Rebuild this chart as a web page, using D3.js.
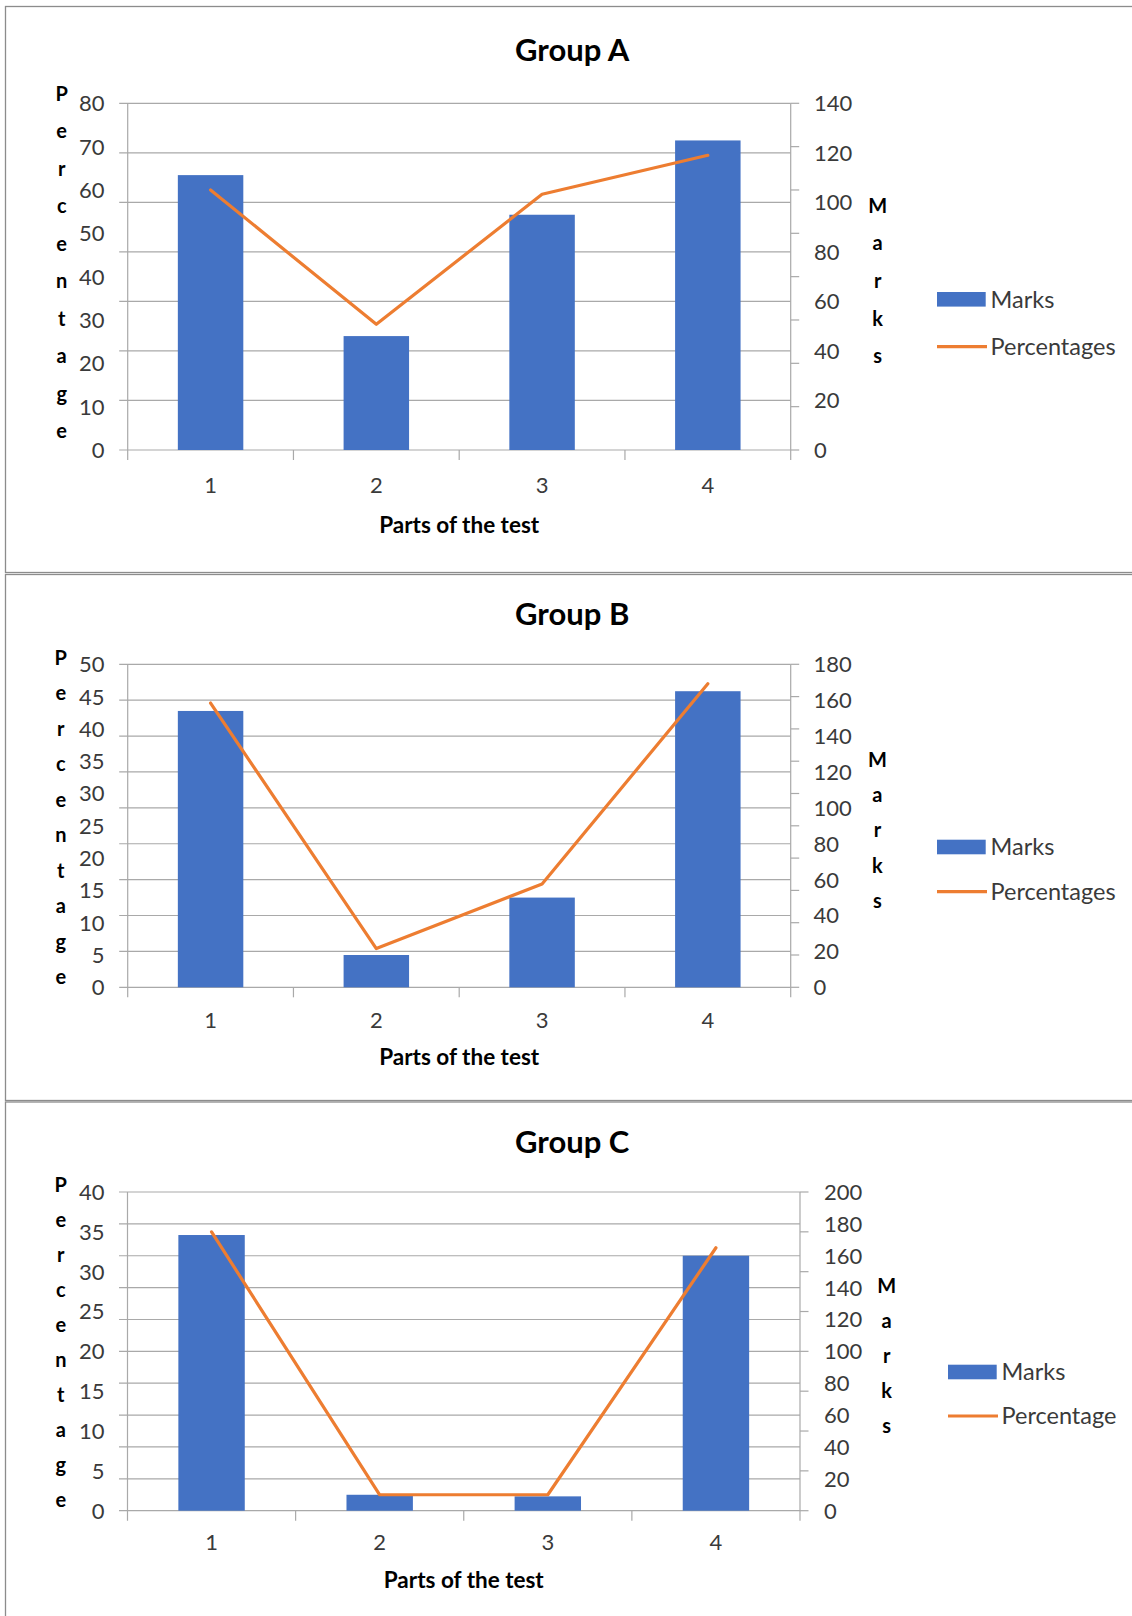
<!DOCTYPE html>
<html>
<head>
<meta charset="utf-8">
<script src="https://cdn.jsdelivr.net/npm/d3@7"></script>
<style>
  html, body { margin: 0; padding: 0; background: #ffffff; }
  svg { display: block; font-family: Lato, "Open Sans", sans-serif; }
</style>
</head>
<body>
<svg id="chart" width="1132" height="1616"></svg>
<script>
// ---- data ---------------------------------------------------------------
const parts = ["1", "2", "3", "4"];

const groupAMarks = [111, 46, 95, 125];
const groupAPercentages = [60, 29, 59, 68];

const groupBMarks = [154, 18, 50, 165];
const groupBPercentages = [44, 6, 16, 47];

const groupCMarks = [173, 10, 9, 160];
const groupCPercentages = [35, 2, 2, 33];

const percentTicksA = [0, 10, 20, 30, 40, 50, 60, 70, 80];
const marksTicksA = [0, 20, 40, 60, 80, 100, 120, 140];
const percentTicksB = [0, 5, 10, 15, 20, 25, 30, 35, 40, 45, 50];
const marksTicksB = [0, 20, 40, 60, 80, 100, 120, 140, 160, 180];
const percentTicksC = [0, 5, 10, 15, 20, 25, 30, 35, 40];
const marksTicksC = [0, 20, 40, 60, 80, 100, 120, 140, 160, 180, 200];

const groupTitles = ["Group A", "Group B", "Group C"];
const barLegendLabel = "Marks";
const lineLegendLabels = ["Percentages", "Percentages", "Percentage"];
const xAxisTitle = "Parts of the test";
const leftAxisTitle = "Percentage";
const rightAxisTitle = "Marks";

// ---- layout of the three stacked panels ---------------------------------
const layouts = [
  { frameTop: 6.5, frameBottom: 572.5, left: 127.7, right: 790.7, top: 103.3, bottom: 450,
    titleY: 61, catLabelY: 484.6, xTitleY: 524.8,
    pctLetterX: 61.7, pctLetterY: 100.7, pctStep: 37.5,
    mrkLetterX: 877.7, mrkLetterY: 212.7, mrkStep: 37.6,
    rightLabelX: 814, legendX: 937, legendBarY: 299.3, legendLineY: 346.7 },
  { frameTop: 574.5, frameBottom: 1100.5, left: 127.7, right: 790.7, top: 664.3, bottom: 987.3,
    titleY: 625.3, catLabelY: 1019.7, xTitleY: 1056.7,
    pctLetterX: 60.8, pctLetterY: 664.5, pctStep: 35.5,
    mrkLetterX: 877.4, mrkLetterY: 766.7, mrkStep: 35.3,
    rightLabelX: 813.5, legendX: 937, legendBarY: 847, legendLineY: 891.6 },
  { frameTop: 1102, frameBottom: 1700, left: 127.5, right: 800, top: 1192, bottom: 1510.7,
    titleY: 1152.7, catLabelY: 1542.4, xTitleY: 1579.5,
    pctLetterX: 60.8, pctLetterY: 1192.4, pctStep: 34.9,
    mrkLetterX: 886.7, mrkLetterY: 1293.4, mrkStep: 34.8,
    rightLabelX: 824, legendX: 948, legendBarY: 1372, legendLineY: 1416 }
];

const panels = [
  { marks: groupAMarks, pct: groupAPercentages, pctTicks: percentTicksA, mrkTicks: marksTicksA },
  { marks: groupBMarks, pct: groupBPercentages, pctTicks: percentTicksB, mrkTicks: marksTicksB },
  { marks: groupCMarks, pct: groupCPercentages, pctTicks: percentTicksC, mrkTicks: marksTicksC }
];

// ---- styling ------------------------------------------------------------
const BAR = "#4472C4";
const LINE = "#ED7D31";
const GRID = "#a9a9a9";
const FRAME = "#8c8c8c";
const TICK_TEXT = "#3a3a3a";
const TITLE_TEXT = "#000000";

const svg = d3.select("#chart");

panels.forEach((p, i) => {
  const L = layouts[i];
  const g = svg.append("g");

  // panel frame
  g.append("rect")
    .attr("x", 5.5).attr("y", L.frameTop)
    .attr("width", 1200).attr("height", L.frameBottom - L.frameTop)
    .attr("fill", "none").attr("stroke", FRAME).attr("stroke-width", 1.3);

  const yMarks = d3.scaleLinear().domain([0, d3.max(p.mrkTicks)]).range([L.bottom, L.top]);
  const yPct = d3.scaleLinear().domain([0, d3.max(p.pctTicks)]).range([L.bottom, L.top]);
  const xCat = d3.scaleBand().domain(parts).range([L.left, L.right]).padding(0);
  const xBar = d3.scaleBand().domain(parts).range([L.left, L.right])
    .paddingInner(0.605).paddingOuter(0.3025);

  // gridlines follow the Marks axis; they poke out left of the primary axis
  g.selectAll(".grid").data(p.mrkTicks).join("line")
    .attr("x1", L.left - 8.5).attr("x2", L.right)
    .attr("y1", d => yMarks(d)).attr("y2", d => yMarks(d))
    .attr("stroke", GRID).attr("stroke-width", 1.2);

  // vertical axis lines (extend below the plot as the outer category ticks)
  [L.left, L.right].forEach(x => {
    g.append("line")
      .attr("x1", x).attr("x2", x).attr("y1", L.top).attr("y2", L.bottom + 10)
      .attr("stroke", GRID).attr("stroke-width", 1.2);
  });

  // small tick marks on the secondary axis at the percentage steps
  g.selectAll(".rtick").data(p.pctTicks).join("line")
    .attr("x1", L.right).attr("x2", L.right + 8.5)
    .attr("y1", d => yPct(d)).attr("y2", d => yPct(d))
    .attr("stroke", GRID).attr("stroke-width", 1.2);

  // category boundary ticks
  g.selectAll(".ctick").data(parts.slice(1)).join("line")
    .attr("x1", d => xCat(d)).attr("x2", d => xCat(d))
    .attr("y1", L.bottom).attr("y2", L.bottom + 10)
    .attr("stroke", GRID).attr("stroke-width", 1.2);

  // bars: Marks
  g.selectAll(".bar").data(parts).join("rect")
    .attr("x", d => xBar(d))
    .attr("width", xBar.bandwidth())
    .attr("y", (d, k) => yMarks(p.marks[k]))
    .attr("height", (d, k) => L.bottom - yMarks(p.marks[k]))
    .attr("fill", BAR);

  // line: Percentages
  const line = d3.line()
    .x(d => xCat(d.part) + xCat.bandwidth() / 2)
    .y(d => yPct(d.value));
  g.append("path")
    .datum(parts.map((d, k) => ({ part: d, value: p.pct[k] })))
    .attr("d", line)
    .attr("fill", "none").attr("stroke", LINE).attr("stroke-width", 3.2)
    .attr("stroke-linejoin", "round").attr("stroke-linecap", "round");

  // left tick labels (percentages)
  g.selectAll(".ltl").data(p.pctTicks).join("text")
    .attr("x", 104.5).attr("y", d => yPct(d)).attr("dy", "0.36em")
    .attr("text-anchor", "end").attr("font-size", 22).attr("fill", TICK_TEXT)
    .text(d => d);

  // right tick labels (marks)
  g.selectAll(".rtl").data(p.mrkTicks).join("text")
    .attr("x", L.rightLabelX).attr("y", d => yMarks(d)).attr("dy", "0.36em")
    .attr("text-anchor", "start").attr("font-size", 22).attr("fill", TICK_TEXT)
    .text(d => d);

  // category labels
  g.selectAll(".cl").data(parts).join("text")
    .attr("x", d => xCat(d) + xCat.bandwidth() / 2).attr("y", L.catLabelY).attr("dy", "0.36em")
    .attr("text-anchor", "middle").attr("font-size", 22).attr("fill", TICK_TEXT)
    .text(d => d);

  // chart title
  g.append("text")
    .attr("x", 572.2).attr("y", L.titleY)
    .attr("text-anchor", "middle").attr("font-size", 31).attr("font-weight", "bold")
    .attr("fill", TITLE_TEXT).text(groupTitles[i]);

  // x axis title
  g.append("text")
    .attr("x", (L.left + L.right) / 2).attr("y", L.xTitleY).attr("dy", "0.36em")
    .attr("text-anchor", "middle").attr("font-size", 22.5).attr("font-weight", "bold")
    .attr("fill", TITLE_TEXT).text(xAxisTitle);

  // stacked vertical axis titles, one letter per line
  const stacked = (word, x, y0, step) => {
    const t = g.append("text")
      .attr("text-anchor", "middle").attr("font-size", 20).attr("font-weight", "bold")
      .attr("fill", TITLE_TEXT);
    word.split("").forEach((ch, k) => {
      t.append("tspan").attr("x", x).attr("y", y0 + k * step).text(ch);
    });
  };
  stacked(leftAxisTitle, L.pctLetterX, L.pctLetterY, L.pctStep);
  stacked(rightAxisTitle, L.mrkLetterX, L.mrkLetterY, L.mrkStep);

  // legend
  g.append("rect")
    .attr("x", L.legendX).attr("y", L.legendBarY - 7.3)
    .attr("width", 48.7).attr("height", 14.6).attr("fill", BAR);
  g.append("text")
    .attr("x", L.legendX + 53.5).attr("y", L.legendBarY).attr("dy", "0.36em")
    .attr("font-size", 23.5).attr("fill", TICK_TEXT).text(barLegendLabel);
  g.append("line")
    .attr("x1", L.legendX).attr("x2", L.legendX + 50)
    .attr("y1", L.legendLineY).attr("y2", L.legendLineY)
    .attr("stroke", LINE).attr("stroke-width", 3.2);
  g.append("text")
    .attr("x", L.legendX + 53.5).attr("y", L.legendLineY).attr("dy", "0.36em")
    .attr("font-size", 23.5).attr("fill", TICK_TEXT).text(lineLegendLabels[i]);
});
</script>
</body>
</html>
